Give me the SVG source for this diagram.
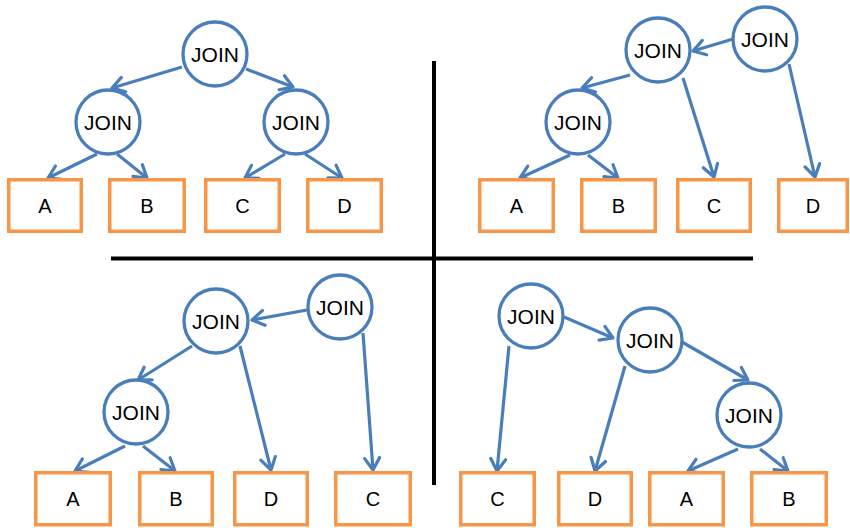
<svg xmlns="http://www.w3.org/2000/svg" width="850" height="528" viewBox="0 0 850 528">
<defs>
<marker id="ah" markerUnits="userSpaceOnUse" markerWidth="26" markerHeight="26" refX="0" refY="0" viewBox="-15 -13 19 26" orient="auto">
<path d="M -12 -7.5 L 0 0 L -12 7.5" fill="none" stroke="#4A7EBB" stroke-width="3.2" stroke-linecap="round" stroke-linejoin="round"/>
</marker>
<style>
.j circle{fill:#fff;stroke:#4A7EBB;stroke-width:3.3}
.j text{font-family:"Liberation Sans",Arial,sans-serif;font-size:21px;text-anchor:middle;fill:#000}
.b rect{fill:#fff;stroke:#F79646;stroke-width:3.5}
.b text{font-family:"Liberation Sans",Arial,sans-serif;font-size:20px;text-anchor:middle;fill:#000}
.e line{stroke:#4A7EBB;stroke-width:3.2;marker-end:url(#ah)}
.div{stroke:#000;stroke-width:4}
</style>
</defs>
<rect width="850" height="528" fill="#fff"/>
<g id="dividers">
<line class="div" x1="434" y1="61" x2="434" y2="485"/>
<line class="div" x1="111" y1="258.5" x2="753" y2="258.5" stroke-width="3.5"/>
</g>
<g id="connectors" class="e">
<line x1="182" y1="67" x2="112" y2="88"/>
<line x1="246" y1="69" x2="293" y2="87"/>
<line x1="97" y1="154" x2="48" y2="178"/>
<line x1="117" y1="154" x2="147" y2="178"/>
<line x1="285" y1="154" x2="245" y2="178"/>
<line x1="305" y1="154" x2="342" y2="178"/>
<line x1="733" y1="39" x2="693" y2="51"/>
<line x1="630" y1="75" x2="582" y2="88"/>
<line x1="683" y1="78" x2="714" y2="177"/>
<line x1="789" y1="64" x2="815" y2="177"/>
<line x1="570" y1="155" x2="520" y2="178"/>
<line x1="588" y1="155" x2="618" y2="178"/>
<line x1="307" y1="310" x2="252" y2="320"/>
<line x1="192" y1="346" x2="138" y2="380"/>
<line x1="240" y1="346" x2="271" y2="470"/>
<line x1="363" y1="333" x2="373" y2="470"/>
<line x1="125" y1="446" x2="75" y2="471"/>
<line x1="143" y1="446" x2="175" y2="471"/>
<line x1="564" y1="317" x2="613" y2="338"/>
<line x1="509" y1="346" x2="497" y2="471"/>
<line x1="625" y1="366" x2="595" y2="471"/>
<line x1="682" y1="342" x2="748" y2="380"/>
<line x1="738" y1="449" x2="688" y2="471"/>
<line x1="760" y1="449" x2="788" y2="471"/>
</g>
<g id="tl-root" class="j"><circle cx="215" cy="54" r="32"/><text x="215" y="61.5">JOIN</text></g>
<g id="tl-left" class="j"><circle cx="108" cy="122" r="32"/><text x="108" y="129.5">JOIN</text></g>
<g id="tl-right" class="j"><circle cx="296" cy="122" r="32"/><text x="296" y="129.5">JOIN</text></g>
<g id="tl-A" class="b"><rect x="8.75" y="179.75" width="72.5" height="51.5"/><text x="45" y="213">A</text></g>
<g id="tl-B" class="b"><rect x="109.75" y="179.75" width="74.5" height="51.5"/><text x="147" y="213">B</text></g>
<g id="tl-C" class="b"><rect x="205.75" y="179.75" width="73.5" height="51.5"/><text x="242.5" y="213">C</text></g>
<g id="tl-D" class="b"><rect x="307.75" y="179.75" width="73.5" height="51.5"/><text x="344.5" y="213">D</text></g>
<g id="tr-mid" class="j"><circle cx="658" cy="50" r="32"/><text x="658" y="57.5">JOIN</text></g>
<g id="tr-right" class="j"><circle cx="765" cy="39" r="32"/><text x="765" y="46.5">JOIN</text></g>
<g id="tr-low" class="j"><circle cx="578" cy="122" r="32"/><text x="578" y="129.5">JOIN</text></g>
<g id="tr-A" class="b"><rect x="479.75" y="179.75" width="73.5" height="51.5"/><text x="516.5" y="213">A</text></g>
<g id="tr-B" class="b"><rect x="581.75" y="179.75" width="73.5" height="51.5"/><text x="618.5" y="213">B</text></g>
<g id="tr-C" class="b"><rect x="677.75" y="179.75" width="72.5" height="51.5"/><text x="714" y="213">C</text></g>
<g id="tr-D" class="b"><rect x="778.75" y="179.75" width="68.5" height="51.5"/><text x="813" y="213">D</text></g>
<g id="bl-mid" class="j"><circle cx="216" cy="321" r="32"/><text x="216" y="328.5">JOIN</text></g>
<g id="bl-right" class="j"><circle cx="340" cy="307" r="32"/><text x="340" y="314.5">JOIN</text></g>
<g id="bl-low" class="j"><circle cx="136" cy="412" r="32"/><text x="136" y="419.5">JOIN</text></g>
<g id="bl-A" class="b"><rect x="35.75" y="472.75" width="74.5" height="52"/><text x="73" y="506">A</text></g>
<g id="bl-B" class="b"><rect x="139.75" y="472.75" width="72.5" height="52"/><text x="176" y="506">B</text></g>
<g id="bl-D" class="b"><rect x="234.75" y="472.75" width="72.5" height="52"/><text x="271" y="506">D</text></g>
<g id="bl-C" class="b"><rect x="335.75" y="472.75" width="74.5" height="52"/><text x="373" y="506">C</text></g>
<g id="br-left" class="j"><circle cx="531" cy="316" r="32"/><text x="531" y="323.5">JOIN</text></g>
<g id="br-mid" class="j"><circle cx="650" cy="340" r="32"/><text x="650" y="347.5">JOIN</text></g>
<g id="br-low" class="j"><circle cx="749" cy="415" r="32"/><text x="749" y="422.5">JOIN</text></g>
<g id="br-C" class="b"><rect x="460.75" y="472.75" width="73.5" height="52"/><text x="497.5" y="506">C</text></g>
<g id="br-D" class="b"><rect x="558.75" y="472.75" width="72.5" height="52"/><text x="595" y="506">D</text></g>
<g id="br-A" class="b"><rect x="649.75" y="472.75" width="73.5" height="52"/><text x="686.5" y="506">A</text></g>
<g id="br-B" class="b"><rect x="751.75" y="472.75" width="74.5" height="52"/><text x="789" y="506">B</text></g>
</svg>
